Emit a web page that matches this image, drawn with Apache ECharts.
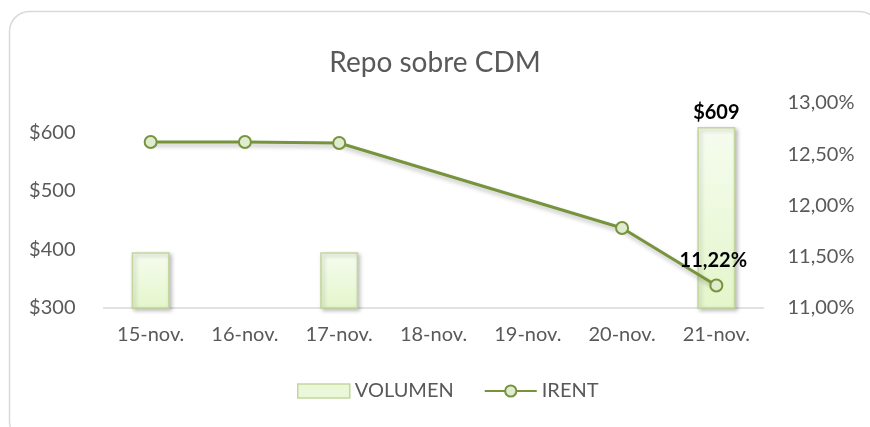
<!DOCTYPE html>
<html>
<head>
<meta charset="utf-8">
<script src="https://cdn.jsdelivr.net/npm/echarts@6/dist/echarts.min.js"></script>
<style>
  html, body { margin: 0; padding: 0; background: #fff; }
  #chart { width: 870px; height: 427px; }
</style>
</head>
<body>
<div id="chart"></div>
<script>
const categories = ['15-nov.', '16-nov.', '17-nov.', '18-nov.', '19-nov.', '20-nov.', '21-nov.'];
const volumen = [395, 300, 395, null, null, 300, 609];
const irent = [12.62, 12.62, 12.61, null, null, 11.78, 11.22];
const leftTicks = [300, 400, 500, 600];

const chart = echarts.init(document.getElementById('chart'));
const font = 'Lato, "Open Sans", sans-serif';
const grey = '#595959';

const option = {
  animation: false,
  textStyle: { fontFamily: font },
  graphic: [
    {
      type: 'rect',
      shape: { x: 9.5, y: 11.5, width: 870, height: 430, r: 20 },
      style: { fill: 'none', stroke: '#d9d9d9', lineWidth: 1.5 },
      silent: true,
    },
  ],
  title: {
    text: 'Repo sobre CDM',
    left: 'center',
    top: 44,
    textStyle: { fontFamily: font, fontSize: 28, fontWeight: 'normal', color: grey },
  },
  legend: {
    bottom: 21,
    left: 292,
    itemGap: 30,
    textStyle: { fontFamily: font, fontSize: 20, color: grey },
    data: [
      { name: 'VOLUMEN', icon: 'rect', itemStyle: { color: '#eaf8d9', borderColor: '#c3d69b', borderWidth: 1.5 } },
      { name: 'IRENT' },
    ],
    itemWidth: 52,
    itemHeight: 14,
  },
  grid: { left: 103.5, right: 106.5, top: 103, bottom: 119 },
  xAxis: {
    type: 'category',
    data: categories,
    axisLine: { lineStyle: { color: '#d9d9d9', width: 1.5 } },
    axisTick: { show: false },
    axisLabel: { color: grey, fontSize: 20, margin: 17 },
  },
  yAxis: [
    {
      type: 'value',
      min: 300,
      max: 650,
      interval: 100,
      splitLine: { show: false },
      axisLine: { show: false },
      axisLabel: {
        color: grey,
        fontSize: 20,
        margin: 28,
        formatter: function (v) {
          return leftTicks.indexOf(v) >= 0 ? '$' + v : '';
        },
      },
    },
    {
      type: 'value',
      min: 11,
      max: 13,
      interval: 0.5,
      splitLine: { show: false },
      axisLine: { show: false },
      axisLabel: {
        color: grey,
        fontSize: 20,
        margin: 24,
        formatter: function (v) {
          return v.toFixed(2).replace('.', ',') + '%';
        },
      },
    },
  ],
  series: [
    {
      name: 'VOLUMEN',
      type: 'bar',
      yAxisIndex: 0,
      barWidth: 38,
      data: volumen,
      itemStyle: {
        color: new echarts.graphic.LinearGradient(0, 0, 0, 1, [
          { offset: 0, color: '#f6fcef' },
          { offset: 1, color: '#e4f6cb' },
        ]),
        borderColor: '#c3d69b',
        borderWidth: 1.5,
        shadowColor: 'rgba(0,0,0,0.25)',
        shadowBlur: 4,
        shadowOffsetX: 2,
        shadowOffsetY: 2,
      },
      label: {
        show: true,
        position: 'top',
        distance: 4,
        fontFamily: font,
        fontSize: 20,
        fontWeight: 'bold',
        color: '#000',
        formatter: function (p) {
          return p.dataIndex === volumen.length - 1 ? '$' + p.value : '';
        },
      },
    },
    {
      name: 'IRENT',
      type: 'line',
      yAxisIndex: 1,
      data: irent,
      connectNulls: true,
      symbol: 'circle',
      symbolSize: 12,
      color: '#77933c',
      lineStyle: {
        color: '#77933c',
        width: 3,
        shadowColor: 'rgba(0,0,0,0.25)',
        shadowBlur: 4,
        shadowOffsetX: 1,
        shadowOffsetY: 3,
      },
      itemStyle: {
        color: '#e0ecd0',
        borderColor: '#77933c',
        borderWidth: 2,
      },
      label: {
        show: true,
        position: 'top',
        distance: 8,
        offset: [-3, 0],
        fontFamily: font,
        fontSize: 20,
        fontWeight: 'bold',
        color: '#000',
        formatter: function (p) {
          return p.dataIndex === irent.length - 1 ? p.value.toFixed(2).replace('.', ',') + '%' : '';
        },
      },
    },
  ],
};

chart.setOption(option);
</script>
</body>
</html>
